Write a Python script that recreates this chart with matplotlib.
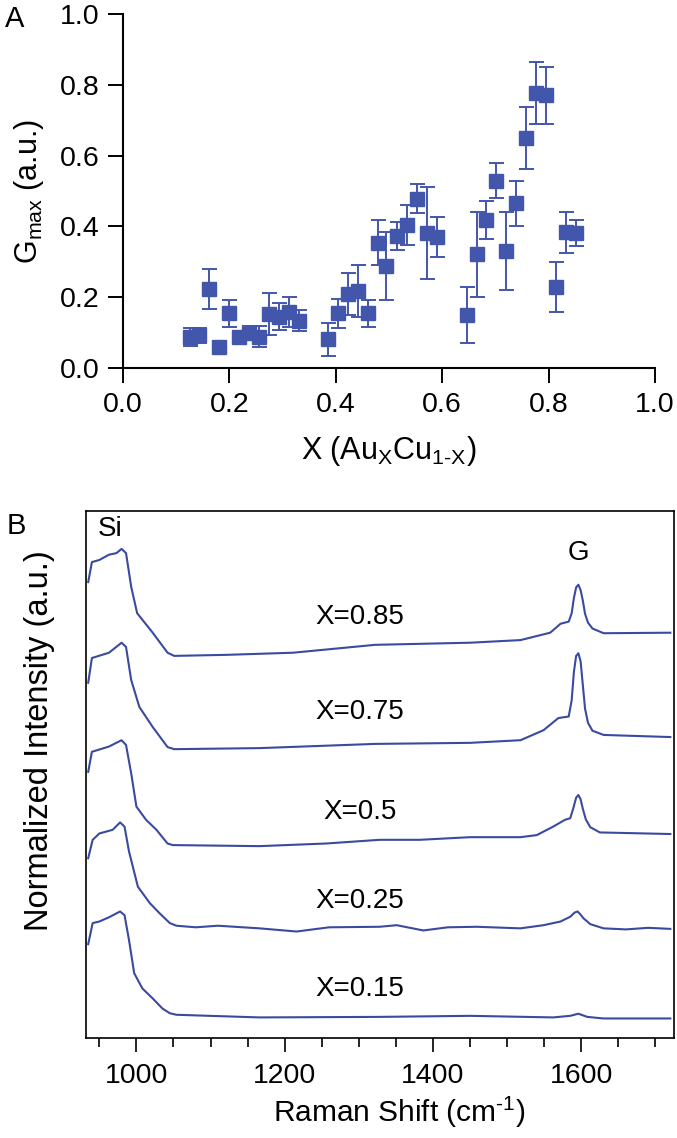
import matplotlib
matplotlib.use("Agg")
import matplotlib.pyplot as plt
from matplotlib.ticker import MultipleLocator

plt.rcParams['font.family'] = ['Liberation Sans', 'DejaVu Sans']
plt.rcParams['mathtext.fontset'] = 'custom'
plt.rcParams['mathtext.rm'] = 'Liberation Sans'
plt.rcParams['mathtext.it'] = 'Liberation Sans'

# ---- panel A: G_max vs composition
comp_x = [0.126, 0.143, 0.162, 0.180, 0.199, 0.218, 0.237, 0.255, 0.274, 0.293, 0.312, 0.330,
          0.385, 0.404, 0.423, 0.442, 0.461, 0.479, 0.494, 0.515, 0.534, 0.553, 0.571, 0.590,
          0.646, 0.665, 0.683, 0.701, 0.720, 0.739, 0.758, 0.776, 0.795, 0.814, 0.833, 0.852]
gmax = [0.087, 0.093, 0.223, 0.059, 0.155, 0.087, 0.100, 0.089, 0.152, 0.145, 0.159, 0.134,
        0.081, 0.155, 0.209, 0.218, 0.155, 0.354, 0.288, 0.373, 0.404, 0.478, 0.381, 0.371,
        0.150, 0.321, 0.419, 0.529, 0.331, 0.465, 0.649, 0.776, 0.770, 0.228, 0.383, 0.382]
gmax_err = [0.026, 0.021, 0.057, 0.017, 0.038, 0.012, 0.020, 0.031, 0.059, 0.038, 0.043, 0.030,
            0.046, 0.041, 0.060, 0.074, 0.038, 0.064, 0.096, 0.040, 0.057, 0.041, 0.129, 0.057,
            0.080, 0.121, 0.054, 0.049, 0.111, 0.063, 0.087, 0.087, 0.080, 0.071, 0.057, 0.036]

# ---- panel B: raman spectra (offset, normalized units)
shift_085 = [935, 940, 950, 963, 973, 980, 986, 993, 1001, 1022, 1042, 1051, 1122, 1211, 1322,
             1450, 1518, 1558, 1572, 1583, 1587, 1590, 1593, 1596, 1599, 1602, 1605, 1609,
             1615, 1630, 1720]
int_085 = [86.5, 90.3, 90.7, 91.7, 92.0, 92.8, 92.0, 85.6, 80.6, 76.9, 73.1, 72.5, 72.7, 73.1, 74.6,
           75.0, 75.5, 76.9, 78.6, 79.0, 80.6, 83.5, 85.5, 86.0, 85.0, 83.0, 80.5, 78.8,
           77.7, 76.8, 76.9]

shift_075 = [935, 940, 963, 980, 986, 993, 1004, 1022, 1042, 1051, 1166, 1322,
             1450, 1518, 1549, 1569, 1583, 1587, 1590, 1593, 1596, 1599, 1602, 1605, 1609,
             1615, 1630, 1720]
int_075 = [67.4, 72.1, 73.1, 75.0, 74.2, 67.9, 62.8, 59.0, 55.2, 54.8, 55.0, 55.8,
           56.0, 56.5, 58.4, 60.7, 61.0, 64.1, 69.5, 72.5, 73.0, 71.5, 67.0, 62.5, 59.8,
           58.3, 57.5, 57.1]

shift_050 = [935, 940, 963, 980, 986, 993, 1000, 1013, 1027, 1042, 1049, 1166, 1256, 1328,
             1382, 1450, 1518, 1540, 1562, 1578, 1585, 1589, 1593, 1596, 1599, 1602, 1606,
             1612, 1625, 1720]
int_050 = [50.5, 54.3, 55.3, 56.5, 55.6, 50.2, 43.9, 41.4, 39.5, 36.9, 36.6, 36.4, 36.9, 37.6,
           37.6, 38.1, 38.1, 38.5, 40.1, 41.4, 41.7, 43.5, 45.6, 46.1, 45.3, 43.5, 41.5,
           40.0, 39.0, 38.7]

shift_025 = [935, 941, 950, 968, 978, 984, 990, 1002, 1018, 1031, 1045, 1054, 1080, 1110, 1166,
             1216, 1260, 1328, 1351, 1387, 1420, 1459, 1518, 1549, 1572, 1585, 1591, 1595, 1599,
             1603, 1612, 1630, 1660, 1690, 1720]
int_025 = [34.1, 37.6, 38.8, 39.5, 40.9, 40.1, 35.4, 28.7, 25.6, 23.7, 21.8, 21.3, 21.0, 21.3, 20.8,
           20.2, 21.0, 21.1, 21.4, 20.4, 21.0, 21.1, 20.8, 21.4, 22.1, 23.0, 23.8, 24.0, 23.4,
           22.7, 21.6, 20.8, 20.6, 20.9, 20.7]

shift_015 = [935, 941, 950, 963, 978, 984, 990, 997, 1008, 1022, 1035, 1045, 1054, 1166, 1328,
             1450, 1562, 1585, 1596, 1608, 1630, 1720]
int_015 = [17.8, 21.8, 22.1, 22.9, 24.0, 23.3, 18.6, 12.3, 9.4, 7.5, 5.6, 4.7, 4.4, 3.9, 4.0,
           4.2, 3.9, 4.2, 4.6, 4.0, 3.7, 3.7]

spec_labels = ['X=0.85', 'X=0.75', 'X=0.5', 'X=0.25', 'X=0.15']
label_y = [79.9, 61.9, 42.9, 26.0, 9.3]

mark_col = '#4256AC'
line_col = '#3A4A9E'

fig = plt.figure(figsize=(6.77, 11.38), dpi=100)

# panel A
axA = fig.add_axes([0.1817, 0.6766, 0.7858, 0.3111])
axA.errorbar(comp_x, gmax, yerr=gmax_err, fmt='s', ms=9.4, color=mark_col,
             ecolor=mark_col, elinewidth=1.4, capsize=5.4, capthick=1.4, clip_on=False)
axA.set_xlim(0, 1)
axA.set_ylim(0, 1)
axA.set_xticks([0.0, 0.2, 0.4, 0.6, 0.8, 1.0])
axA.set_yticks([0.0, 0.2, 0.4, 0.6, 0.8, 1.0])
axA.xaxis.set_major_formatter(matplotlib.ticker.FormatStrFormatter('%.1f'))
axA.yaxis.set_major_formatter(matplotlib.ticker.FormatStrFormatter('%.1f'))
for s in ['top', 'right']:
    axA.spines[s].set_visible(False)
for s in ['left', 'bottom']:
    axA.spines[s].set_linewidth(1.5)
axA.tick_params(length=11, width=1.4, labelsize=20.5, pad=6)
axA.set_xlabel(r'X (Au$_{\rm X}$Cu$_{\rm 1\text{-}X}$)', fontsize=22, labelpad=12)
axA.set_ylabel(r'G$_{\rm max}$ (a.u.)', fontsize=22, labelpad=10)

# panel B
axB = fig.add_axes([0.1270, 0.0879, 0.8686, 0.4631])
specs = [(shift_085, int_085), (shift_075, int_075), (shift_050, int_050),
         (shift_025, int_025), (shift_015, int_015)]
for sx, sy in specs:
    axB.plot(sx, sy, color=line_col, lw=1.5)
for lab, ly in zip(spec_labels, label_y):
    axB.text(1301, ly, lab, fontsize=20, ha='center', va='center')
axB.text(965, 96.6, 'Si', fontsize=20, ha='center', va='center')
axB.text(1596, 92.0, 'G', fontsize=20, ha='center', va='center')
axB.set_xlim(932, 1725)
axB.set_ylim(0, 100)
axB.set_yticks([])
axB.xaxis.set_major_locator(MultipleLocator(200))
axB.xaxis.set_minor_locator(MultipleLocator(50))
axB.tick_params(axis='x', which='major', length=10, width=1.2, labelsize=20.5, pad=8)
axB.tick_params(axis='x', which='minor', length=6.5, width=1.2)
for s in axB.spines.values():
    s.set_linewidth(1.2)
axB.set_xlabel(r'Raman Shift (cm$^{\rm \text{-}1}$)', fontsize=21.5)
axB.xaxis.set_label_coords(0.532, -0.108)
fig.text(40 / 677, 1 - 741 / 1138, 'Normalized Intensity (a.u.)', fontsize=23.5,
         rotation=90, ha='center', va='center')

fig.text(15 / 677, 1 - 19 / 1138, 'A', fontsize=21, ha='center', va='center')
fig.text(16 / 677, 1 - 526 / 1138, 'B', fontsize=21, ha='center', va='center')

fig.savefig('out.png', dpi=100)
